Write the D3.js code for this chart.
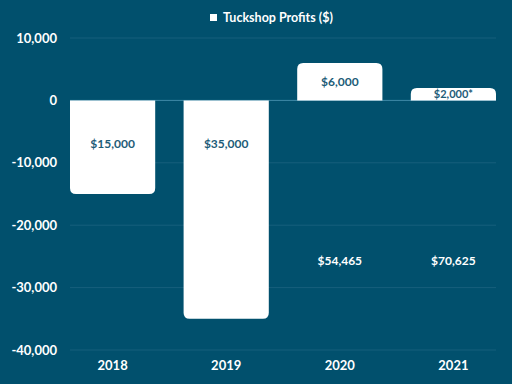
<!DOCTYPE html>
<html lang="en">
<head>
<meta charset="UTF-8">
<title>Tuckshop Profits</title>
<script src="https://d3js.org/d3.v7.min.js"></script>
<style>
  body { margin: 0; background: #01506d; }
  text { font-family: Lato, "Open Sans", sans-serif; font-weight: bold; }
</style>
</head>
<body>
<svg id="chart" width="512" height="384"></svg>
<script>
const years = ['2018', '2019', '2020', '2021'];
const profits = [-15000, -35000, 6000, 2000];
const profitLabels = ['$15,000', '$35,000', '$6,000', '$2,000*'];
const turnoverLabels = ['', '', '$54,465', '$70,625'];
const turnoverLabelAt = -26300;
const yTicks = [10000, 0, -10000, -20000, -30000, -40000];

const width = 512, height = 384;
const margin = { top: 38, right: 16, bottom: 34, left: 70 };

const svg = d3.select('#chart');
svg.append('rect').attr('width', width).attr('height', height).attr('fill', '#01506d');

const x = d3.scaleBand().domain(years).range([margin.left, width - margin.right])
  .paddingInner(0.25).paddingOuter(0);
const y = d3.scaleLinear().domain([-40000, 10000]).range([height - margin.bottom, margin.top]);

// gridlines
svg.append('g')
  .selectAll('line')
  .data(yTicks)
  .join('line')
  .attr('x1', margin.left).attr('x2', width - margin.right)
  .attr('y1', d => y(d)).attr('y2', d => y(d))
  .attr('stroke', d => d === 0 ? '#3f8aa8' : '#175f7c')
  .attr('stroke-width', 1);

// y axis labels
const fmt = d3.format(',');
const yAxis = svg.append('g')
  .attr('transform', `translate(${margin.left - 10},0)`)
  .call(d3.axisLeft(y).tickValues(yTicks).tickFormat(d => fmt(d).replace('\u2212', '-')).tickSize(0));
yAxis.select('.domain').remove();
yAxis.selectAll('text').attr('fill', '#ffffff').attr('font-size', 13);

// x axis labels
const xAxis = svg.append('g')
  .attr('transform', `translate(0,${height - margin.bottom + 8})`)
  .call(d3.axisBottom(x).tickSize(0));
xAxis.select('.domain').remove();
xAxis.selectAll('text').attr('fill', '#ffffff').attr('font-size', 13);

// bars: rounded only at the end away from zero
const r = 6;
function barPath(d, i) {
  const x0 = x(years[i]), w = x.bandwidth();
  const y0 = y(0), y1 = y(d);
  const s = d >= 0 ? 1 : -1;
  return `M${x0},${y0}V${y1 + s * r}Q${x0},${y1} ${x0 + r},${y1}H${x0 + w - r}Q${x0 + w},${y1} ${x0 + w},${y1 + s * r}V${y0}Z`;
}
svg.append('g')
  .selectAll('path')
  .data(profits)
  .join('path')
  .attr('d', barPath)
  .attr('fill', '#ffffff');

// value labels
svg.append('g')
  .selectAll('text')
  .data(profits)
  .join('text')
  .attr('x', (d, i) => x(years[i]) + x.bandwidth() / 2)
  .attr('y', d => d < 0 ? y(0) + 48 : y(d / 2) + 4)
  .attr('text-anchor', 'middle')
  .attr('font-size', (d, i) => i === 3 ? 11 : 12)
  .attr('fill', '#1d5c78')
  .text((d, i) => profitLabels[i]);

svg.append('g')
  .selectAll('text')
  .data(turnoverLabels)
  .join('text')
  .attr('x', (d, i) => x(years[i]) + x.bandwidth() / 2)
  .attr('y', y(turnoverLabelAt))
  .attr('text-anchor', 'middle')
  .attr('font-size', 12)
  .attr('fill', '#ffffff')
  .text(d => d);

// legend title
const legend = svg.append('g').attr('transform', 'translate(210,18)');
legend.append('rect')
  .attr('x', 0).attr('y', -4).attr('width', 7).attr('height', 7)
  .attr('fill', '#ffffff');
legend.append('text')
  .attr('x', 13).attr('y', 4)
  .attr('font-size', 12.5)
  .attr('fill', '#ffffff')
  .text('Tuckshop Profits ($)');
</script>
</body>
</html>
